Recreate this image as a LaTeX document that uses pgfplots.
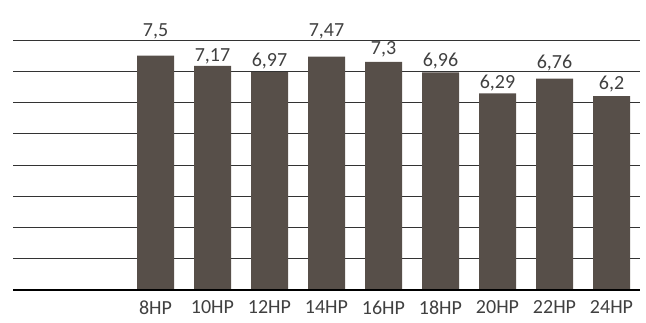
\documentclass[border=0pt]{standalone}
\usepackage{pgfplots}
\pgfplotsset{compat=1.18}
\usepackage{fontspec}
\setmainfont{Carlito}
\definecolor{barc}{HTML}{574F49}
\definecolor{txt}{HTML}{404040}
\begin{document}
\begin{tikzpicture}
\begin{axis}[
  at={(0,0)}, anchor=south west,
  scale only axis, width=627pt, height=250pt,
  xmin=-0.5, xmax=10.5, ymin=0, ymax=8,
  axis line style={draw=none},
  ytick={1,...,8}, yticklabels={},
  ymajorgrids, grid style={black!80, line width=0.8pt},
  major tick length=0pt,
  xtick={2,...,10},
  xticklabels={8HP,10HP,12HP,14HP,16HP,18HP,20HP,22HP,24HP},
  xticklabel style={font=\fontsize{20}{24}\selectfont, text=txt, yshift=-7pt},
  clip=false,
]
\addplot[ybar, bar width=37pt, fill=barc, draw=none] coordinates {
(2,7.5) (3,7.17) (4,6.97) (5,7.47) (6,7.3) (7,6.96) (8,6.29) (9,6.76) (10,6.2)
};
\addplot[draw=none, mark=none, nodes near coords, point meta=explicit symbolic,
  every node near coord/.append style={anchor=base, inner sep=0pt, font=\fontsize{20}{24}\selectfont, text=txt}]
  table[meta=l] {
x y l
2 8.1 7,5
3 7.3 7,17
4 7.14 6,97
5 8.1 7,47
6 7.52 7,3
7 7.14 6,96
8 6.46 6,29
9 7.1 6,76
10 6.4 6,2
};
\draw[black, line width=2pt] (axis cs:-0.5,0) -- (axis cs:10.5,0);
\end{axis}
\pgfresetboundingbox
\path (-13pt,-33pt) rectangle (633pt,290pt);
\end{tikzpicture}
\end{document}
